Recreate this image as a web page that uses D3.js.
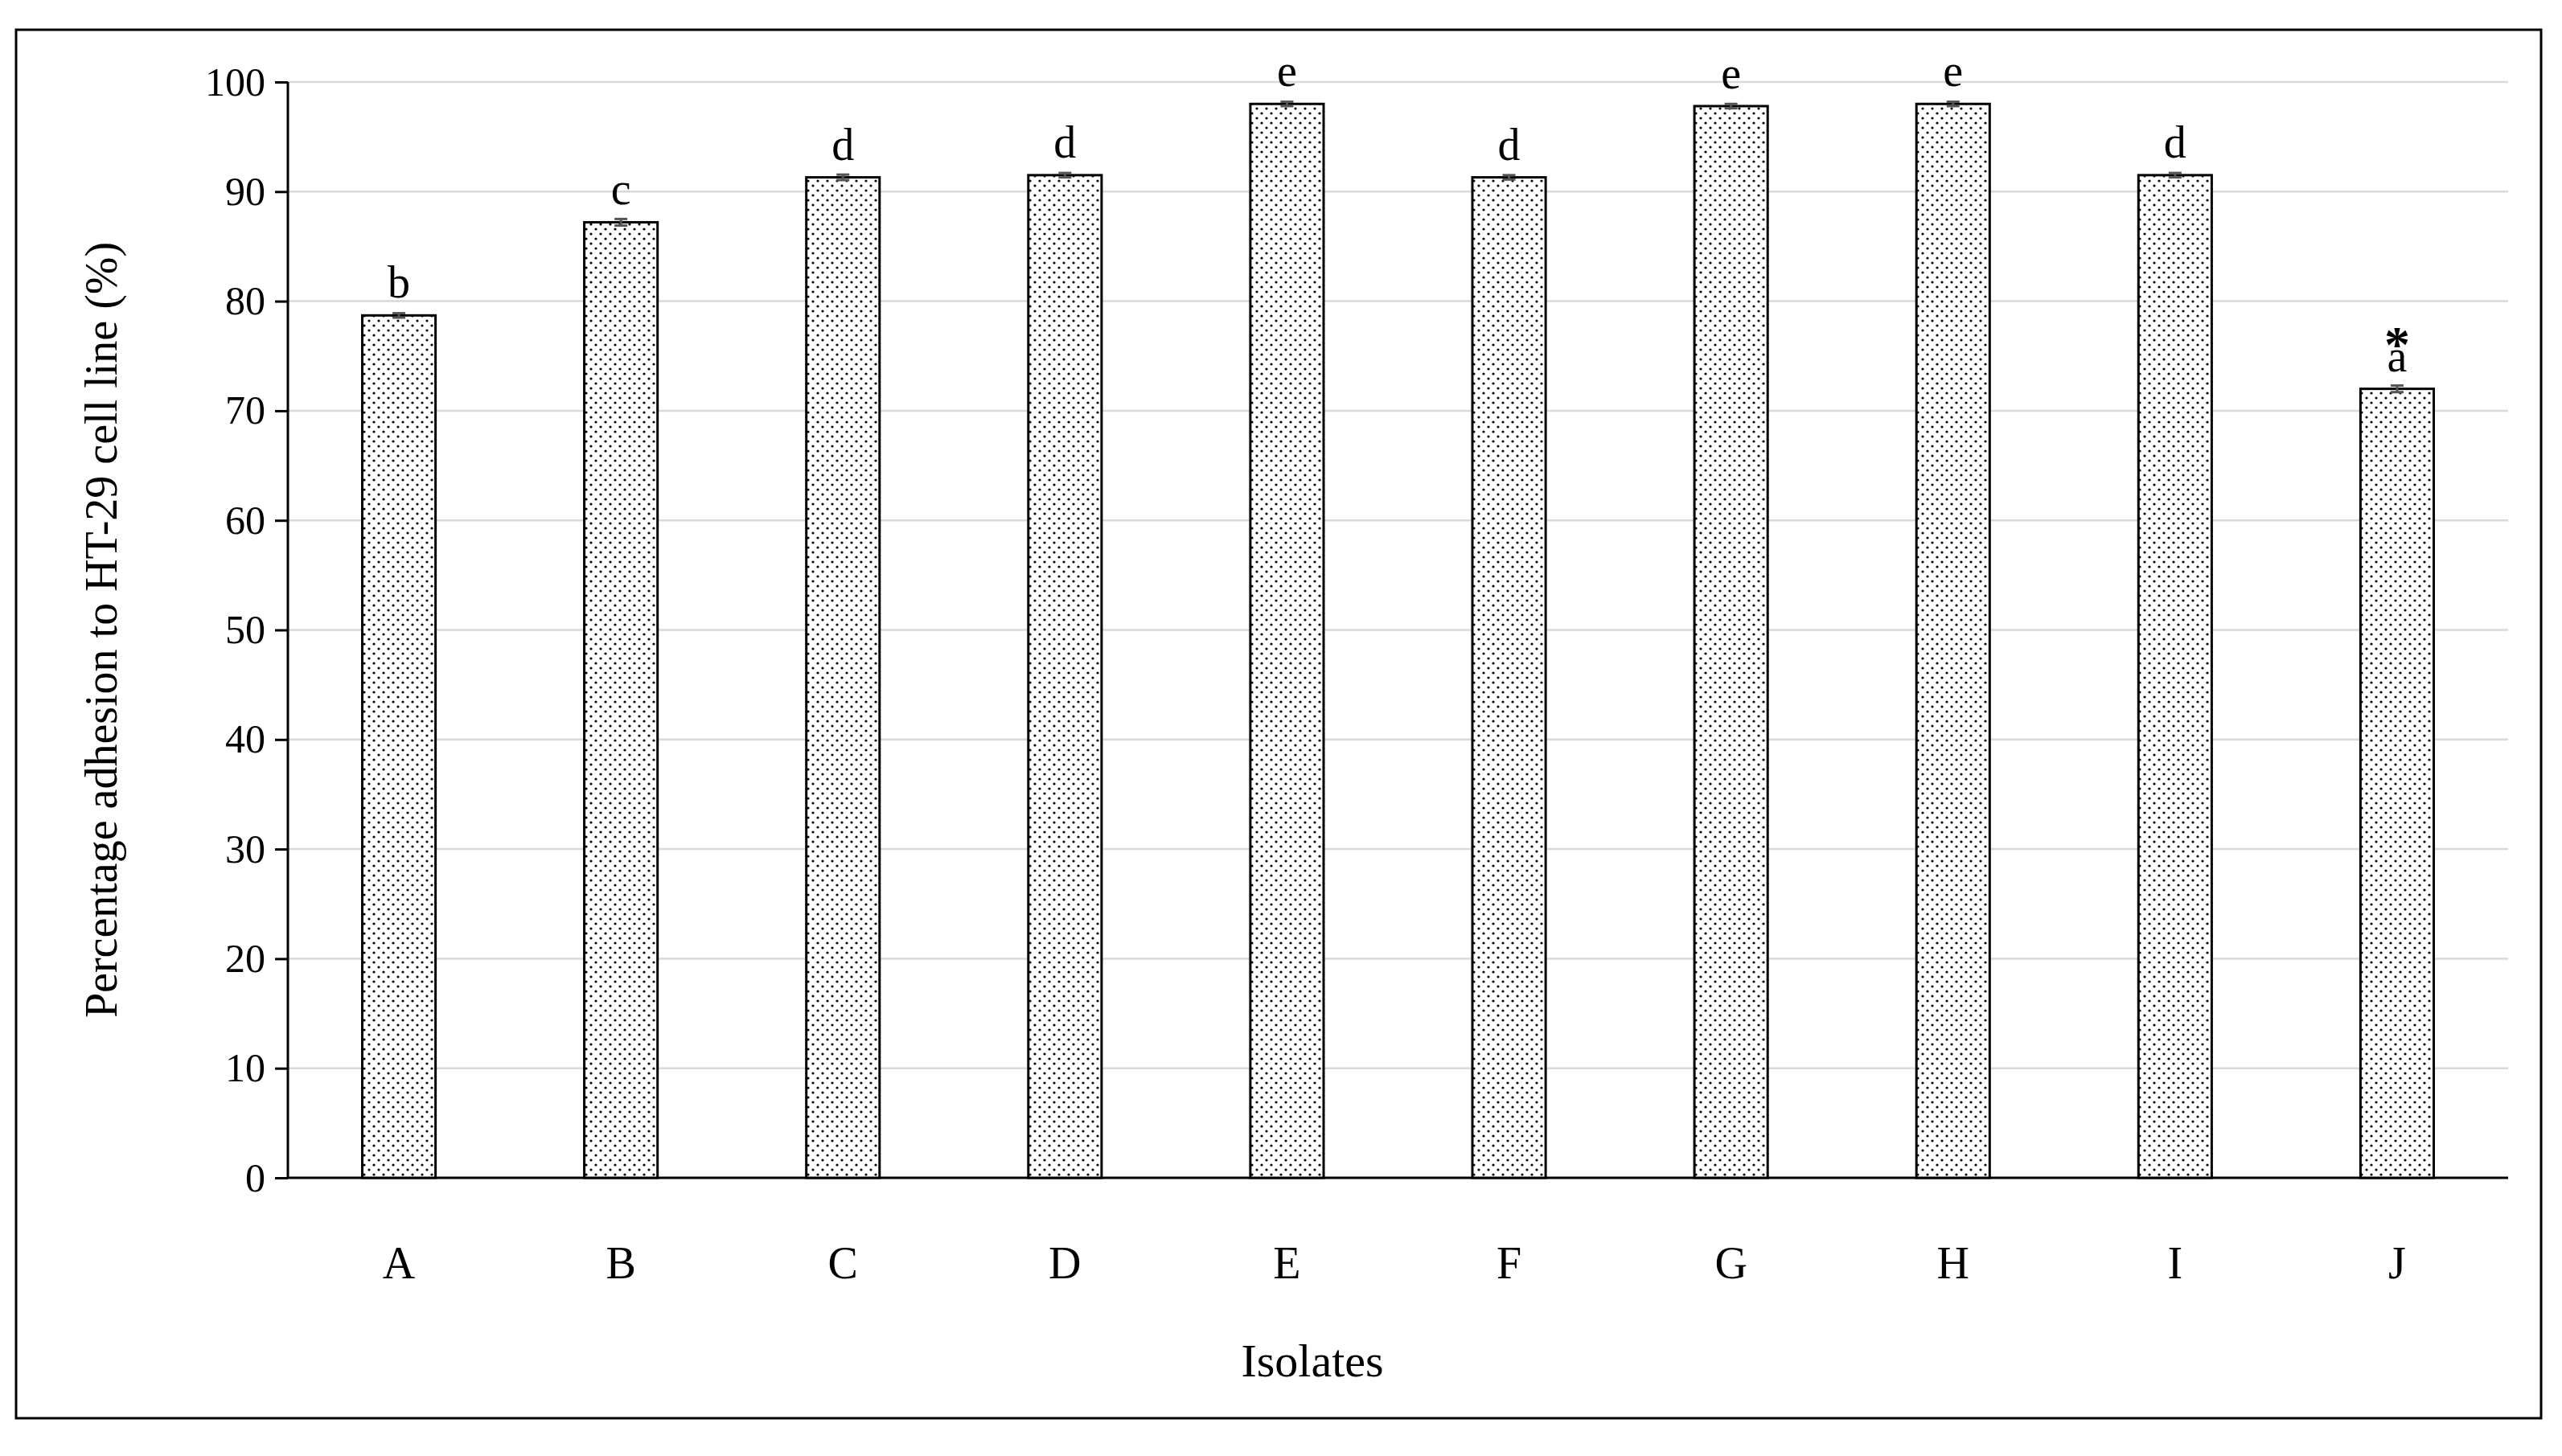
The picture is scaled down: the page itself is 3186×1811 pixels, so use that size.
<!DOCTYPE html>
<html lang="en">
<head>
<meta charset="utf-8">
<script src="https://cdn.jsdelivr.net/npm/d3@7"></script>
<style>
  body { margin: 0; background: #fff; }
  text { font-family: "Liberation Serif", "DejaVu Serif", serif; }
</style>
</head>
<body>
<script>
// data
var isolates = ["A", "B", "C", "D", "E", "F", "G", "H", "I", "J"];
var adhesion = [78.7, 87.2, 91.3, 91.5, 98.0, 91.3, 97.8, 98.0, 91.5, 72.0];
var errors   = [0.2, 0.3, 0.25, 0.2, 0.2, 0.2, 0.2, 0.2, 0.2, 0.3];
var letters  = ["b", "c", "d", "d", "e", "d", "e", "e", "d", "a"];
var yTicks = [0, 10, 20, 30, 40, 50, 60, 70, 80, 90, 100];

var w = 3186, h = 1811;
var plotLeft = 358, plotRight = 3119, plotTop = 102, plotBottom = 1465;

var svg = d3.select("body").append("svg")
  .attr("width", w).attr("height", h);

// dot fill
var pat = svg.append("defs").append("pattern")
  .attr("id", "dots").attr("patternUnits", "userSpaceOnUse")
  .attr("width", 12).attr("height", 12);
pat.append("rect").attr("width", 12).attr("height", 12).attr("fill", "#fff");
pat.append("circle").attr("cx", 3).attr("cy", 3).attr("r", 1.6).attr("fill", "#000");
pat.append("circle").attr("cx", 9).attr("cy", 9).attr("r", 1.6).attr("fill", "#000");

// outer frame
svg.append("rect")
  .attr("x", 20).attr("y", 37).attr("width", 3140).attr("height", 1727)
  .attr("fill", "none").attr("stroke", "#000").attr("stroke-width", 3);

var x = d3.scaleBand().domain(isolates).range([plotLeft, plotRight]).paddingInner(0.67).paddingOuter(0.335);
var y = d3.scaleLinear().domain([0, 100]).range([plotBottom, plotTop]);

// gridlines
svg.append("g").selectAll("line").data(yTicks.slice(1)).enter().append("line")
  .attr("x1", plotLeft).attr("x2", plotRight)
  .attr("y1", d => y(d)).attr("y2", d => y(d))
  .attr("stroke", "#d9d9d9").attr("stroke-width", 2.5);

// y axis
var yAxis = d3.axisLeft(y).tickValues(yTicks).tickSize(16).tickPadding(12);
var gy = svg.append("g").attr("transform", "translate(" + plotLeft + ",0)").call(yAxis);
gy.select(".domain").attr("stroke-width", 3).attr("d", "M0," + plotBottom + "V" + plotTop);
gy.selectAll(".tick line").attr("stroke-width", 3);
gy.selectAll(".tick text").attr("font-size", 50).attr("font-family", "Liberation Serif").attr("fill", "#000");

// x baseline
svg.append("line").attr("x1", plotLeft).attr("x2", plotRight)
  .attr("y1", plotBottom).attr("y2", plotBottom).attr("stroke", "#000").attr("stroke-width", 3);

// bars
svg.append("g").selectAll("rect").data(isolates).enter().append("rect")
  .attr("x", d => x(d)).attr("width", x.bandwidth())
  .attr("y", (d, i) => y(adhesion[i]))
  .attr("height", (d, i) => plotBottom - y(adhesion[i]))
  .attr("fill", "url(#dots)").attr("stroke", "#000").attr("stroke-width", 3);

// error bars
var eb = svg.append("g").attr("stroke", "#555").attr("stroke-width", 3);
isolates.forEach(function (d, i) {
  var cx = x(d) + x.bandwidth() / 2;
  eb.append("line").attr("x1", cx).attr("x2", cx)
    .attr("y1", y(adhesion[i] + errors[i])).attr("y2", y(adhesion[i] - errors[i]));
  [1, -1].forEach(function (s) {
    eb.append("line").attr("x1", cx - 8).attr("x2", cx + 8)
      .attr("y1", y(adhesion[i] + s * errors[i])).attr("y2", y(adhesion[i] + s * errors[i]));
  });
});

// significance letters
svg.append("g").selectAll("text").data(isolates).enter().append("text")
  .attr("x", d => x(d) + x.bandwidth() / 2)
  .attr("y", (d, i) => y(adhesion[i]) - 22)
  .attr("text-anchor", "middle").attr("font-size", 56)
  .text((d, i) => letters[i]);

// asterisk on J
svg.append("text")
  .attr("x", x("J") + x.bandwidth() / 2)
  .attr("y", y(adhesion[9]) - 56)
  .attr("text-anchor", "middle").attr("font-size", 64).attr("font-weight", "bold")
  .attr("font-family", "DejaVu Sans")
  .text("*").attr("dy", 22);

// category labels
svg.append("g").selectAll("text").data(isolates).enter().append("text")
  .attr("x", d => x(d) + x.bandwidth() / 2)
  .attr("y", 1590)
  .attr("text-anchor", "middle").attr("font-size", 56)
  .text(d => d);

// axis titles
svg.append("text").attr("x", 1632).attr("y", 1712)
  .attr("text-anchor", "middle").attr("font-size", 58).text("Isolates");

svg.append("text")
  .attr("transform", "translate(145," + ((plotTop + plotBottom) / 2) + ") rotate(-90)")
  .attr("text-anchor", "middle").attr("font-size", 56)
  .text("Percentage adhesion to HT-29 cell line (%)");
</script>
</body>
</html>
